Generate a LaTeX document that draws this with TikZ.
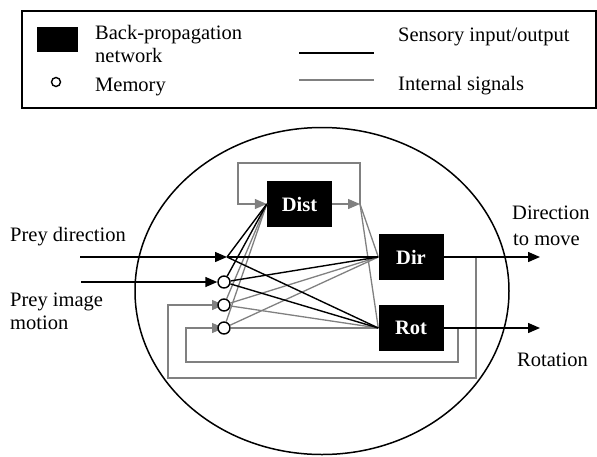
\documentclass[tikz,border=0pt]{standalone}
\usepackage{fontspec}
\setmainfont{Liberation Serif}
\usetikzlibrary{arrows.meta,shapes.geometric}
\definecolor{igray}{RGB}{128,128,128}
\begin{document}
\begin{tikzpicture}[x=1pt,y=-1pt,
  sens/.style={black,line width=1.4pt},
  intl/.style={igray,line width=1.3pt},
  tip/.style={-{Triangle[length=12pt,width=10pt]}},
  net/.style={fill=black,draw=none,text=white,font=\fontsize{20.5}{24}\selectfont\bfseries,minimum width=65pt,minimum height=46pt,inner sep=0pt},
  mem/.style={circle,draw=black,fill=white,line width=1.4pt,minimum size=12pt,inner sep=0pt},
  lbl/.style={font=\fontsize{20.5}{24}\selectfont,inner sep=0pt,anchor=base west},
]
\useasboundingbox (0,0) rectangle (597,456);
% legend
\node[draw=black,line width=1.6pt,minimum width=574pt,minimum height=97pt,anchor=north west,inner sep=0pt] (legend) at (21,10) {};
\node[fill=black,minimum width=41pt,minimum height=25pt,inner sep=0pt,anchor=north west] (lnet) at (37,27) {};
\node[mem,minimum size=9pt,line width=1.4pt] (lmem) at (56,82) {};
\node[lbl] (t1) at (95,39) {Back-propagation};
\node[lbl] (t2) at (95,62) {network};
\node[lbl] (t3) at (95,91) {Memory};
\coordinate (ls1) at (299,53); \coordinate (ls2) at (374,53);
\draw[sens] (ls1) -- (ls2);
\coordinate (li1) at (299,80); \coordinate (li2) at (374,80);
\draw[intl] (li1) -- (li2);
\node[lbl] (t4) at (398,41) {Sensory input/output};
\node[lbl] (t5) at (398,90) {Internal signals};
% body
\node[ellipse,draw=black,line width=1.5pt,minimum width=374pt,minimum height=327pt,inner sep=0pt] (body) at (322,291) {};
\node[net] (dist) at (299.5,204) {Dist};
\node[net] (dir) at (411,257) {Dir};
\node[net] (rot) at (411,328) {Rot};
\coordinate (pdin) at (80,257);
\coordinate (T) at (227,257);
\coordinate (pmin) at (81,282);
\coordinate (dout) at (540,257);
\coordinate (rout) at (540,328);
\coordinate (b1) at (476,257);
\coordinate (b2) at (458,328);
\coordinate (dtip) at (360,204);
% memory loops (internal)
\draw[intl,tip] (b1) |- (168,378) |- (224,305) coordinate (c2in);
\draw[intl,tip] (b2) |- (186,362) |- (224,328) coordinate (c3in);
% dist loop
\draw[intl,tip] (dtip) |- (238,163) |- (dist.west);
\draw[intl,tip] (dist.east) -- (dtip);
\draw[intl] (dtip) -- (dir.west);
\draw[intl] (dtip) -- (rot.west);
% memories
\node[mem] (c1) at (224,282) {};
\node[mem] (c2) at (224,305) {};
\node[mem] (c3) at (224,328) {};
% gray fans
\foreach \c in {c2,c3}{
  \draw[intl] (\c) -- (dist.west);
  \draw[intl] (\c) -- (dir.west);
  \draw[intl] (\c) -- (rot.west);
}
% black fans
\draw[sens] (T) -- (dist.west);
\draw[sens] (T) -- (rot.west);
\draw[sens] (c1) -- (dist.west);
\draw[sens] (c1) -- (dir.west);
\draw[sens] (c1) -- (rot.west);
% inputs / outputs
\draw[sens,tip] (pdin) -- (T);
\draw[sens] (T) -- (dir.west);
\draw[sens,tip] (pmin) -- (c1);
\draw[sens,tip] (dir.east) -- (dout);
\draw[sens,tip] (rot.east) -- (rout);
% labels
\node[lbl] (lpd) at (10,241) {Prey direction};
\node[lbl] (lpm1) at (10,306) {Prey image};
\node[lbl] (lpm2) at (10,329) {motion};
\node[lbl] (ld1) at (512,219) {Direction};
\node[lbl] (ld2) at (513,245) {to move};
\node[lbl] (lr) at (517,366) {Rotation};
\end{tikzpicture}
\end{document}
